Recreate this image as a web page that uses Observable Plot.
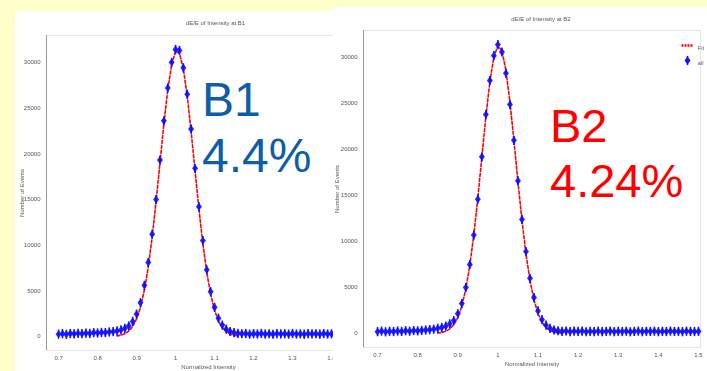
<!DOCTYPE html>
<html><head><meta charset="utf-8">
<script src="https://cdn.jsdelivr.net/npm/d3@7"></script>
<script src="https://cdn.jsdelivr.net/npm/@observablehq/plot@0.6"></script>
<style>
html,body{margin:0;padding:0;}
body{width:707px;height:371px;background:#ffffcc;position:relative;overflow:hidden;font-family:"Liberation Sans",Arial,sans-serif;}
.panel{position:absolute;background:#fff;overflow:hidden;}
#p1{left:15px;top:11px;width:318px;height:360px;}
#p2{left:333px;top:7px;width:374px;height:364px;}
.panel svg{filter:blur(0.6px);display:block;max-width:none !important;}
.big{position:absolute;font-family:"Liberation Sans",Arial,sans-serif;white-space:nowrap;}
#t1{left:202px;top:72px;color:#0d5ea6;font-size:48px;line-height:56px;}
#t2{left:550px;top:98px;color:#ff0000;font-size:47px;line-height:55px;}
</style>
</head><body>
<div class="panel" id="p1"></div>
<div class="panel" id="p2"></div>
<div class="big" id="t1">B1<br>4.4%</div>
<div class="big" id="t2">B2<br>4.24%</div>
<script>
const bins = [0.70,0.71,0.72,0.73,0.74,0.75,0.76,0.77,0.78,0.79,
  0.80,0.81,0.82,0.83,0.84,0.85,0.86,0.87,0.88,0.89,
  0.90,0.91,0.92,0.93,0.94,0.95,0.96,0.97,0.98,0.99,
  1.00,1.01,1.02,1.03,1.04,1.05,1.06,1.07,1.08,1.09,
  1.10,1.11,1.12,1.13,1.14,1.15,1.16,1.17,1.18,1.19,
  1.20,1.21,1.22,1.23,1.24,1.25,1.26,1.27,1.28,1.29,
  1.30,1.31,1.32,1.33,1.34,1.35,1.36,1.37,1.38,1.39,
  1.40,1.41,1.42,1.43,1.44,1.45,1.46,1.47,1.48,1.49,1.50];

const countsB1 = [260,310,240,330,290,350,310,380,340,420,
  390,450,430,500,540,610,720,900,1150,1650,
  2450,3700,5600,8100,11200,15000,19300,23600,27200,30000,
  31400,31300,29400,26500,22700,18400,14200,10500,7300,4900,
  3200,2000,1250,800,550,420,350,300,330,260,
  310,280,340,270,300,250,320,280,300,260,
  330,270,290,250,310,280,300,260,320,270,
  290,300,260,310,280,300,270,320,280,290,300];

const fitB1 = [null,null,null,null,null,null,null,null,null,null,
  null,null,null,null,null,68,148,300,590,1090,
  1920,3190,5060,7610,10870,14740,18980,23220,26970,29750,
  31170,31010,29300,26290,22400,18120,13930,10160,7040,4630,
  2900,1720,970,520,263,127,58,null,null,null,
  null,null,null,null,null,null,null,null,null,null,
  null,null,null,null,null,null,null,null,null,null,
  null,null,null,null,null,null,null,null,null,null,null];

const countsB2 = [200,260,180,240,210,270,230,300,250,320,
  290,340,380,420,470,560,650,800,1050,1400,
  2150,3250,5000,7500,10700,14600,19200,23800,27500,30200,
  31400,30600,28300,24900,21000,16600,12400,8900,6000,3900,
  2450,1500,900,560,380,300,240,270,200,250,
  220,260,190,240,210,250,200,230,260,200,
  240,210,250,190,230,260,200,240,220,250,
  200,240,210,260,220,240,200,250,230,210,240];

const fitB2 = [null,null,null,null,null,null,null,null,null,null,
  null,null,null,null,null,50,115,246,500,955,
  1730,2970,4830,7400,10750,14750,19170,23540,27360,30070,
  31270,30750,28600,25170,20950,16490,12280,8650,5760,3630,
  2170,1220,650,328,156,70,30,null,null,null,
  null,null,null,null,null,null,null,null,null,null,
  null,null,null,null,null,null,null,null,null,null,
  null,null,null,null,null,null,null,null,null,null,null];

const xTicksB1 = [0.7,0.8,0.9,1.0,1.1,1.2,1.3,1.4];
const xTicksB2 = [0.7,0.8,0.9,1.0,1.1,1.2,1.3,1.4,1.5];
const yTicks = [0,5000,10000,15000,20000,25000,30000];
const titles = ["dE/E of Intensity at B1","dE/E of Intensity at B2"];
const xLabel = "Normalized Intensity";
const yLabel = "Number of Events";
const legendLabels = ["Fit","all"];

const diamond = {draw(ctx,size){const r=Math.sqrt(size/Math.PI);ctx.moveTo(0,-1.3*r);ctx.lineTo(r,0);ctx.lineTo(0,1.3*r);ctx.lineTo(-r,0);ctx.closePath();}};
const vbar = {draw(ctx,size){const r=Math.sqrt(size/Math.PI);ctx.moveTo(0,-2*r);ctx.lineTo(0,2*r);}};
const hbar = {draw(ctx,size){const r=Math.sqrt(size/Math.PI);ctx.moveTo(-3*r,0);ctx.lineTo(3*r,0);}};

function makeChart(o){
  const pts = bins.map((x,i)=>({x, y:o.counts[i]}));
  const fitPts = bins.map((x,i)=>({x, y:o.fit[i]})).filter(d=>d.y!=null);
  const marks = [
    Plot.frame({stroke:"#e4e4e4"}),
    Plot.ruleX([o.xDomain[0]], {stroke:"#9a9a9a"}),
    Plot.line(fitPts, {x:"x", y:"y", stroke:"#ff0000", strokeWidth:1.6, strokeDasharray:"3,2"}),
    Plot.dot(pts, {x:"x", y:"y", symbol:vbar, r:2.3, stroke:"#1010ff", fill:"none", strokeWidth:1.6}),
    Plot.dot(pts, {x:"x", y:"y", symbol:diamond, r:3, fill:"#1010ff", fillOpacity:0.9, stroke:"none"}),
    Plot.text([o.title], {frameAnchor:"top", dy:o.titleDy, dx:o.titleDx, fontSize:6, fill:"#555"})
  ];
  if (o.legend) {
    marks.push(
      Plot.dot([0], {x:null, y:null, frameAnchor:"top-right", dx:-13, dy:15, symbol:hbar, r:2, stroke:"#ff0000", fill:"none", strokeWidth:2.5, strokeDasharray:"2,1"}),
      Plot.dot([0], {x:null, y:null, frameAnchor:"top-right", dx:-13, dy:30, symbol:vbar, r:2.3, stroke:"#1010ff", fill:"none", strokeWidth:1.6}),
      Plot.dot([0], {x:null, y:null, frameAnchor:"top-right", dx:-13, dy:30, symbol:diamond, r:3, fill:"#1010ff", stroke:"none"}),
      Plot.text([legendLabels[0]], {frameAnchor:"top-right", dx:-3, dy:15, textAnchor:"start", fontSize:6, fill:"#666"}),
      Plot.text([legendLabels[1]], {frameAnchor:"top-right", dx:-3, dy:30, textAnchor:"start", fontSize:6, fill:"#666"})
    );
  }
  return Plot.plot({
    width:o.width, height:o.height,
    marginLeft:o.ml, marginRight:o.mr, marginTop:o.mt, marginBottom:o.mb,
    style:{fontSize:"6px", fontFamily:"Liberation Sans, Arial, sans-serif", color:"#555", background:"transparent", overflow:"visible", maxWidth:"none"},
    x:{domain:o.xDomain, ticks:o.xTicks, tickFormat:d=>String(+d.toFixed(1)), tickSize:0, tickPadding:5, label:xLabel, labelAnchor:"center", labelOffset:18, labelArrow:"none"},
    y:{domain:o.yDomain, ticks:yTicks, tickFormat:d=>String(d), tickSize:0, tickPadding:6, label:yLabel, labelAnchor:"center", labelOffset:o.ylo, labelArrow:"none"},
    marks
  });
}

document.getElementById("p1").appendChild(makeChart({
  width:390, height:360, ml:31, mr:35, mt:24, mb:21,
  xDomain:[0.669,1.5], yDomain:[-1530,32930], xTicks:xTicksB1,
  counts:countsB1, fit:fitB1, title:titles[0], titleDx:7, titleDy:-15, ylo:27, legend:false
}));
document.getElementById("p2").appendChild(makeChart({
  width:374, height:364, ml:30, mr:7, mt:23, mb:24,
  xDomain:[0.665,1.505], yDomain:[-1522,32935], xTicks:xTicksB2,
  counts:countsB2, fit:fitB2, title:titles[1], titleDx:9, titleDy:-14, ylo:29, legend:true
}));
</script>
</body></html>
